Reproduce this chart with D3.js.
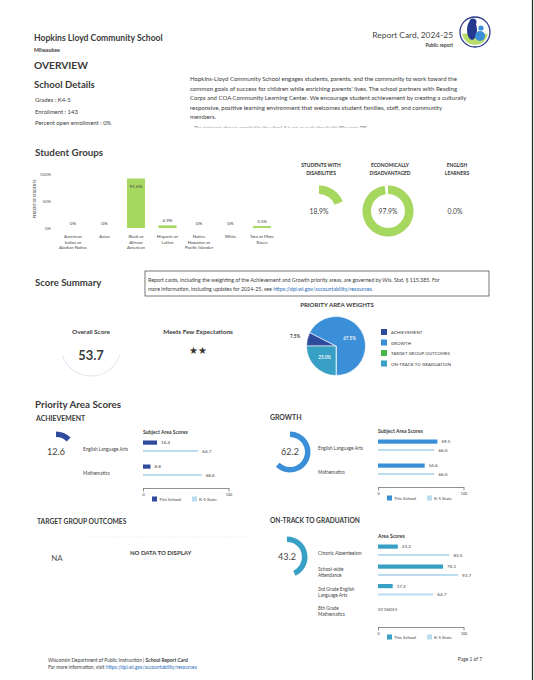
<!DOCTYPE html>
<html><head><meta charset="utf-8">
<script src="https://cdn.jsdelivr.net/npm/d3@7"></script>
<style>
body{margin:0;background:#fff;}
svg{display:block;font-family:Lato,"Open Sans",sans-serif;}
</style></head><body>
<svg id="c" width="534" height="680"></svg>
<script>
// ---------- DATA ----------
const schoolName = "Hopkins Lloyd Community School";
const cityName = "Milwaukee";
const reportTitle = "Report Card, 2024-25";
const reportSub = "Public report";
const detailLines = ["Grades :  K4-5", "Enrollment :  143", "Percent open enrollment :  0%"];
const overviewText = [
  "Hopkins-Lloyd Community School engages students, parents, and the community to work toward the",
  "common goals of success for children while enriching parents' lives. The school partners with Reading",
  "Corps and COA Community Learning Center. We encourage student achievement by creating a culturally",
  "responsive, positive learning environment that welcomes student families, staff, and community",
  "members."
];
const disclaimer = "The statement above is provided by the school. It is not an evaluation by the Wisconsin DPI.";

const groupCategories = [["American","Indian or","Alaskan Native"],["Asian"],["Black or","African","American"],["Hispanic or","Latino"],["Native","Hawaiian or","Pacific Islander"],["White"],["Two or More","Races"]];
const groupValues = [0, 0, 91.6, 4.9, 0, 0, 3.5];
const groupTicks = [0, 50, 100];

const donutLabels = [["STUDENTS WITH","DISABILITIES"],["ECONOMICALLY","DISADVANTAGED"],["ENGLISH","LEARNERS"]];
const donutValues = [18.9, 97.9, 0.0];

const weightCategories = ["ACHIEVEMENT","GROWTH","TARGET GROUP OUTCOMES","ON-TRACK TO GRADUATION"];
const weightValues = [7.5, 67.5, 0, 25.0];

const overallScore = 53.7;
const ratingLabel = "Meets Few Expectations";
const ratingStars = 2;

const achievementScore = 12.6;
const achievementSubjects = [["English Language Arts"],["Mathematics"]];
const achievementSchool = [16.4, 8.8];
const achievementState = [64.7, 68.6];

const growthScore = 62.2;
const growthSubjects = [["English Language Arts"],["Mathematics"]];
const growthSchool = [69.5, 54.6];
const growthState = [66.0, 66.0];

const onTrackScore = 43.2;
const onTrackAreas = [["Chronic Absenteeism"],["School-wide","Attendance"],["3rd Grade English","Language Arts"],["8th Grade","Mathematics"]];
const onTrackSchool = [23.2, 76.1, 17.2, null];
const onTrackState = [83.5, 93.7, 64.7, null];

const scoreTicks = [0, 100];
const legendLabels = ["This School", "K-5 State"];

// ---------- STYLE ----------
const TXT = "#3b3b3b";
const GREEN = "#a6d75f";
const C_ACH = "#2f4b9c", C_GRO = "#3b8fd8", C_TGO = "#46b64a", C_OTG = "#37a0c4";
const C_STATE = "#bcdcf0";
const LINK = "#2a6cb8";

const svg = d3.select("#c");
function text(x, y, s, size, opt = {}) {
  const t = svg.append("text").attr("x", x).attr("y", y).attr("font-size", size)
    .attr("fill", opt.fill || TXT).text(s);
  if (opt.bold) t.attr("font-weight", 700);
  if (opt.anchor) t.attr("text-anchor", opt.anchor);
  if (opt.italic) t.attr("font-style", "italic");
  if (opt.ls) t.attr("letter-spacing", opt.ls);
  return t;
}

// right border
svg.append("line").attr("x1", 532.5).attr("x2", 532.5).attr("y1", 0).attr("y2", 680).attr("stroke", "#222").attr("stroke-width", 1.2);

// ---------- HEADER ----------
text(34, 41, schoolName, 8.6, {bold: true});
text(34, 52, cityName, 5.3, {bold: true});
text(453, 38, reportTitle, 8.4, {anchor: "end", fill: "#444"});
text(453, 47, reportSub, 4.8, {anchor: "end", bold: true});
// logo
const logo = svg.append("g").attr("transform", "translate(475,32)");
logo.append("circle").attr("r", 15).attr("fill", "#fff").attr("stroke", "#2b3a8c").attr("stroke-width", 1.3);
logo.append("path").attr("d", d3.arc()({innerRadius: 0, outerRadius: 13, startAngle: Math.PI*0.55, endAngle: Math.PI*1.45})).attr("fill", "#b9dd6b");
logo.append("ellipse").attr("cx", -3).attr("cy", -2).attr("rx", 5).attr("ry", 10).attr("fill", "#25388f");
logo.append("circle").attr("cx", -2).attr("cy", -10).attr("r", 3.5).attr("fill", "#25388f");
logo.append("ellipse").attr("cx", 5).attr("cy", 4).attr("rx", 5).attr("ry", 5).attr("fill", "#3a8fd8");
logo.append("circle").attr("cx", 6).attr("cy", -4).attr("r", 2.6).attr("fill", "#3a8fd8");

// ---------- OVERVIEW ----------
text(34, 69, "OVERVIEW", 10.2, {bold: true});
text(34, 88, "School Details", 9.6, {bold: true});
detailLines.forEach((d, i) => text(35, 102 + i * 11.5, d, 5.9));
overviewText.forEach((d, i) => text(190, 81 + i * 9.5, d, 6.05));
svg.append("clipPath").attr("id", "discl").append("rect").attr("x", 0).attr("y", 118).attr("width", 534).attr("height", 9.5);
text(194, 129, disclaimer, 4.6, {italic: true}).attr("clip-path", "url(#discl)");

// ---------- STUDENT GROUPS ----------
text(35, 156, "Student Groups", 9.8, {bold: true});
const gx = d3.scalePoint().domain(d3.range(groupValues.length)).range([73, 262]);
const gy = d3.scaleLinear().domain([0, 100]).range([228, 174]);
const bw = 18;
const gAxis = svg.append("g").attr("transform", "translate(52,0)")
  .call(d3.axisLeft(gy).tickValues(groupTicks).tickFormat(d => d + "%").tickSize(0).tickPadding(1));
gAxis.select(".domain").remove();
gAxis.selectAll("text").attr("font-size", 4.4).attr("fill", "#555").attr("font-family", "Lato");
text(0, 0, "PERCENT OF STUDENTS", 3.4, {bold: true, anchor: "middle", fill: "#666"})
  .attr("transform", "translate(36,199) rotate(-90)");
svg.selectAll("rect.gbar").data(groupValues).join("rect").attr("class", "gbar")
  .attr("x", (d, i) => gx(i) - bw / 2).attr("width", bw)
  .attr("y", d => gy(d)).attr("height", d => gy(0) - gy(d)).attr("fill", GREEN);
groupValues.forEach((v, i) => {
  const lab = v === 0 ? "0%" : v.toFixed(1) + "%";
  const y = v > 20 ? gy(v) + 9 : gy(v) - 3;
  text(gx(i), y, lab, 4.6, {anchor: "middle", fill: "#444"});
  const t = svg.append("text").attr("font-size", 4.3).attr("fill", "#444").attr("text-anchor", "middle");
  groupCategories[i].forEach((ln, j) => t.append("tspan").attr("x", gx(i)).attr("y", 238 + j * 5.6).text(ln));
});

// donuts
const donutX = [319, 388, 455];
const dAng = d3.scaleLinear().domain([0, 100]).range([0, 2 * Math.PI]);
const dArc = d3.arc().innerRadius(17).outerRadius(25.5);
donutValues.forEach((v, i) => {
  const g = svg.append("g").attr("transform", `translate(${donutX[i]},211)`);
  if (v > 0) g.append("path").attr("d", dArc({startAngle: 0, endAngle: dAng(v)})).attr("fill", GREEN);
  g.append("text").attr("y", 2.5).attr("text-anchor", "middle").attr("font-size", 6.8).attr("fill", "#444").text(v.toFixed(1) + "%");
  donutLabels[i].forEach((ln, j) => text(donutX[i] + 2, 167 + j * 8, ln, 4.9, {bold: true, anchor: "middle", fill: "#333"}));
});

// ---------- SCORE SUMMARY ----------
text(35, 286, "Score Summary", 9.6, {bold: true});
svg.append("rect").attr("x", 145).attr("y", 271).attr("width", 344).attr("height", 25).attr("fill", "none").attr("stroke", "#555").attr("stroke-width", 0.8);
text(148, 282, "Report cards, including the weighting of the Achievement and Growth priority areas, are governed by Wis. Stat. § 115.385. For", 5.3);
const l2 = text(148, 290.5, "more information, including updates for 2024-25, see ", 5.3);
l2.append("tspan").attr("fill", LINK).text("https://dpi.wi.gov/accountability/resources.");

// overall score
const ring = svg.append("g").attr("transform", "translate(91,346)");
ring.append("path").attr("d", d3.arc()({innerRadius: 29.6, outerRadius: 30.4, startAngle: Math.PI * 0.6, endAngle: Math.PI * 1.4})).attr("fill", "#d6e2ec");
text(91, 334, "Overall Score", 6.4, {bold: true, anchor: "middle"});
text(91, 360, overallScore.toFixed(1), 13, {bold: true, anchor: "middle"});
text(198, 334, ratingLabel, 6.4, {bold: true, anchor: "middle"});
text(198, 354, "★".repeat(ratingStars), 10, {anchor: "middle", fill: "#333"}).attr("font-family", "DejaVu Sans");

// pie
text(337, 307, "PRIORITY AREA WEIGHTS", 6.1, {bold: true, anchor: "middle"});
const pieCols = [C_ACH, C_GRO, C_TGO, C_OTG];
const pie = d3.pie().sort(null).startAngle(-Math.PI / 2).endAngle(3 * Math.PI / 2)(weightValues);
const pArc = d3.arc().innerRadius(0).outerRadius(29.5);
const pg = svg.append("g").attr("transform", "translate(336,346)");
pg.selectAll("path").data(pie).join("path").attr("d", pArc).attr("fill", (d, i) => pieCols[i])
  .attr("stroke", "#fff").attr("stroke-width", 0.6);
pie.forEach((d, i) => {
  if (d.value === 0) return;
  const a = (d.startAngle + d.endAngle) / 2;
  let r = 16, col = "#e8f2fb";
  if (d.value < 10) { r = 38; col = "#444"; }
  const x = Math.sin(a) * r, y = -Math.cos(a) * r;
  pg.append("text").attr("x", x + (d.value < 10 ? -4 : 0)).attr("y", y + 2 - (d.value < 10 ? 1 : 0))
    .attr("text-anchor", "middle").attr("font-size", 4.6).attr("font-weight", 700).attr("fill", col)
    .text(d.value.toFixed(1) + "%");
});
weightCategories.forEach((c, i) => {
  svg.append("rect").attr("x", 381).attr("y", 329 + i * 10.5).attr("width", 6).attr("height", 6).attr("fill", pieCols[i]);
  text(391, 334 + i * 10.5, c, 4.3, {fill: "#333", ls: 0.1});
});

// ---------- PRIORITY AREA SCORES ----------
text(35, 408, "Priority Area Scores", 9.8, {bold: true});

const gaugeAng = d3.scaleLinear().domain([0, 100]).range([0, 2 * Math.PI]);
function gauge(cx, cy, val, col) {
  const g = svg.append("g").attr("transform", `translate(${cx},${cy})`);
  g.append("path").attr("d", d3.arc()({innerRadius: 15, outerRadius: 20.5, startAngle: 0, endAngle: gaugeAng(val)})).attr("fill", col);
  g.append("text").attr("y", 3.3).attr("text-anchor", "middle").attr("font-size", 9).attr("fill", "#444").text(val.toFixed(1));
}

function scoreChart(x0, title, titleY, rows, school, state, rowY, col, axisY, legendY) {
  const xs = d3.scaleLinear().domain([0, 100]).range([x0, x0 + 85.5]);
  text(x0, titleY, title, 5.1, {bold: true});
  rows.forEach((lab, i) => {
    const y = rowY[i];
    const t = svg.append("text").attr("font-size", 4.7).attr("fill", "#444");
    if (lab.length === 1) t.append("tspan").attr("x", x0 - 60).attr("y", y + 3.5).text(lab[0]);
    else lab.forEach((ln, j) => t.append("tspan").attr("x", x0 - 60).attr("y", y + j * 6.2).text(ln));
    if (school[i] == null) {
      text(x0, y + 0.5, "NO GRADE 8", 3.2, {fill: "#555"});
      return;
    }
    svg.append("rect").attr("x", xs(0)).attr("y", y - 6.5).attr("width", xs(school[i]) - xs(0)).attr("height", 4.2).attr("fill", col);
    text(xs(school[i]) + 4, y - 3, school[i].toFixed(1), 4.6, {fill: "#444"});
    svg.append("rect").attr("x", xs(0)).attr("y", y + 3).attr("width", xs(state[i]) - xs(0)).attr("height", 2).attr("fill", C_STATE);
    text(xs(state[i]) + 4, y + 5.8, state[i].toFixed(1), 4.6, {fill: "#444"});
  });
  const ax = svg.append("g").attr("transform", `translate(0,${axisY})`)
    .call(d3.axisBottom(xs).tickValues(scoreTicks).tickSize(3.5).tickSizeOuter(0).tickPadding(1.5));
  ax.select(".domain").attr("stroke", "#444").attr("stroke-width", 0.6);
  ax.selectAll(".tick line").attr("stroke", "#444").attr("stroke-width", 0.6);
  ax.selectAll("text").attr("font-size", 3.8).attr("fill", "#444").attr("font-family", "Lato");
  [col, C_STATE].forEach((c, i) => {
    svg.append("rect").attr("x", x0 + 9 + i * 40).attr("y", legendY - 2.5).attr("width", 5).attr("height", 5).attr("fill", c);
    text(x0 + 16 + i * 40, legendY + 1.6, legendLabels[i], 4.4, {fill: "#444"});
  });
}

// Achievement
text(36, 421, "ACHIEVEMENT", 6.9, {bold: true});
gauge(56, 452, achievementScore, C_ACH);
scoreChart(143, "Subject Area Scores", 434, achievementSubjects, achievementSchool, achievementState, [447, 471], C_ACH, 488, 499);

// Growth
text(270, 420, "GROWTH", 6.9, {bold: true});
gauge(290, 452, growthScore, C_GRO);
scoreChart(378, "Subject Area Scores", 433, growthSubjects, growthSchool, growthState, [446, 470], C_GRO, 487, 498);

// Target group outcomes
text(37, 524, "TARGET GROUP OUTCOMES", 6.7, {bold: true});
svg.append("line").attr("x1", 87).attr("x2", 247).attr("y1", 537).attr("y2", 537).attr("stroke", "#e2e2e2").attr("stroke-width", 0.6).attr("stroke-dasharray", "1.5,2");
text(57, 561, "NA", 8, {anchor: "middle", fill: "#555"});
text(130, 555, "NO DATA TO DISPLAY", 6, {bold: true});

// On-track
text(270, 523, "ON-TRACK TO GRADUATION", 6.6, {bold: true});
gauge(287, 557, onTrackScore, C_OTG);
scoreChart(378, "Area Scores", 538, onTrackAreas, onTrackSchool, onTrackState, [551, 571, 590.5, 610], C_OTG, 627, 637);

// ---------- FOOTER ----------
const f1 = text(48, 662, "Wisconsin Department of Public Instruction | ", 4.9);
f1.append("tspan").attr("font-weight", 700).text("School Report Card");
const f2 = text(48, 669, "For more information, visit ", 4.9);
f2.append("tspan").attr("fill", LINK).text("https://dpi.wi.gov/accountability/resources");
text(482, 661, "Page 1 of 7", 4.9, {anchor: "end"});
</script>
</body></html>
